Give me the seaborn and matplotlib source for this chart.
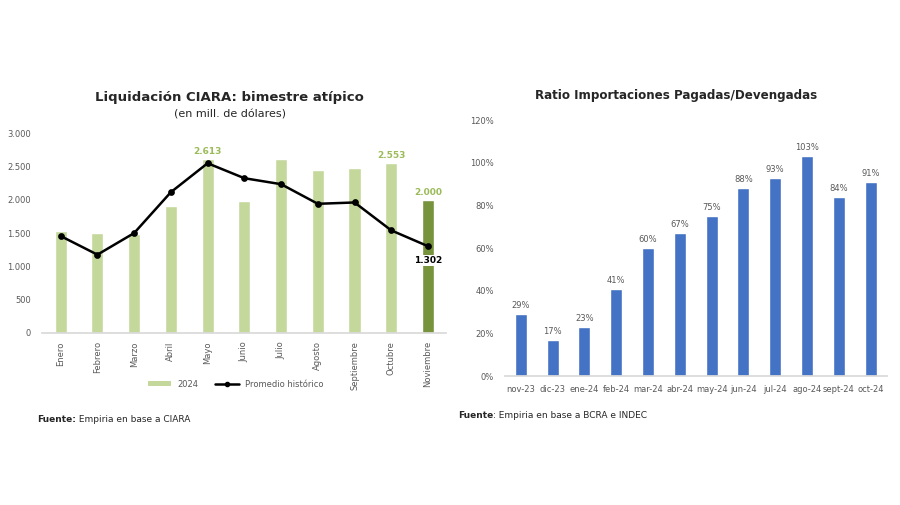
import matplotlib
matplotlib.use("Agg")
import matplotlib.pyplot as plt
import seaborn as sns
from matplotlib.patches import Patch
from matplotlib.lines import Line2D
from matplotlib.ticker import FuncFormatter

# --- datos ---
meses = ["Enero", "Febrero", "Marzo", "Abril", "Mayo", "Junio", "Julio",
         "Agosto", "Septiembre", "Octubre", "Noviembre"]
liq_2024 = [1530, 1500, 1490, 1910, 2613, 1980, 2610, 2450, 2480, 2553, 2000]
promedio = [1455, 1175, 1500, 2115, 2550, 2325, 2235, 1940, 1960, 1540, 1302]

periodos = ["nov-23", "dic-23", "ene-24", "feb-24", "mar-24", "abr-24",
            "may-24", "jun-24", "jul-24", "ago-24", "sept-24", "oct-24"]
ratio = [29, 17, 23, 41, 60, 67, 75, 88, 93, 103, 84, 91]

verde_claro = "#c4d89c"
verde_oscuro = "#77933c"
verde_label = "#9bbb59"
azul = "#4472c4"
gris = "#595959"

sns.set_theme(style="white")
plt.rcParams["font.family"] = ["DejaVu Sans"]

fig = plt.figure(figsize=(9, 5.05), dpi=100)

def miles(v, _):
    return f"{int(v):,}".replace(",", ".")

# --- grafico izquierdo ---
ax1 = fig.add_axes([0.047, 0.341, 0.449, 0.395])
colores = [verde_claro] * (len(meses) - 1) + [verde_oscuro]
sns.barplot(x=meses, y=liq_2024, hue=meses, palette=colores, legend=False,
            width=0.33, ax=ax1, saturation=1)
sns.pointplot(x=meses, y=promedio, color="black", markers="o",
              linewidth=1.8, markersize=3.5, ax=ax1)
ax1.set_ylim(0, 3000)
ax1.set_xlim(-0.5, len(meses) - 0.5)
ax1.set_yticks(range(0, 3001, 500))
ax1.yaxis.set_major_formatter(FuncFormatter(miles))
ax1.tick_params(axis="y", labelsize=6, colors=gris, length=0, pad=8)
ax1.tick_params(axis="x", labelsize=6, colors=gris, length=0, labelrotation=90, pad=6)
for s in ["top", "right", "left"]:
    ax1.spines[s].set_visible(False)
ax1.spines["bottom"].set_color("#d9d9d9")
ax1.set_xlabel("")
ax1.set_ylabel("")

for i in [4, 9, 10]:
    ax1.annotate(miles(liq_2024[i], None), (i, liq_2024[i]), xytext=(0, 2),
                 textcoords="offset points", ha="center", va="bottom",
                 fontsize=6.5, fontweight="bold", color=verde_label)
ax1.annotate(miles(promedio[-1], None), (10, promedio[-1]), xytext=(0, -7),
             textcoords="offset points", ha="center", va="top",
             fontsize=6.5, fontweight="bold", color="black",
             bbox=dict(boxstyle="square,pad=0.1", fc="white", ec="none"))

fig.text(0.255, 0.806, "Liquidación CIARA: bimestre atípico", ha="center",
         va="center", fontsize=9.5, fontweight="bold", color="#262626")
fig.text(0.255, 0.774, "(en mill. de dólares)", ha="center", va="center",
         fontsize=8, color="#262626")

handles = [Patch(facecolor=verde_claro, edgecolor="none", label="2024"),
           Line2D([0], [0], color="black", marker="o", markersize=3,
                  linewidth=1.8, label="Promedio histórico")]
fig.legend(handles=handles, loc="center", bbox_to_anchor=(0.262, 0.239),
           ncol=2, frameon=False, fontsize=6, handlelength=2.8,
           handleheight=0.5, columnspacing=2.0, labelcolor=gris)

# --- grafico derecho ---
ax2 = fig.add_axes([0.561, 0.255, 0.424, 0.507])
sns.barplot(x=periodos, y=ratio, color=azul, width=0.38, ax=ax2, saturation=1)
ax2.set_ylim(0, 120)
ax2.set_xlim(-0.5, len(periodos) - 0.5)
ax2.set_yticks(range(0, 121, 20))
ax2.yaxis.set_major_formatter(FuncFormatter(lambda v, _: f"{int(v)}%"))
ax2.tick_params(axis="y", labelsize=6, colors=gris, length=0, pad=8)
ax2.tick_params(axis="x", labelsize=6, colors=gris, length=0, pad=6)
for s in ["top", "right", "left"]:
    ax2.spines[s].set_visible(False)
ax2.spines["bottom"].set_color("#d9d9d9")
ax2.set_xlabel("")
ax2.set_ylabel("")
for i, v in enumerate(ratio):
    ax2.annotate(f"{v}%", (i, v), xytext=(0, 3), textcoords="offset points",
                 ha="center", va="bottom", fontsize=6, color=gris)

fig.text(0.751, 0.81, "Ratio Importaciones Pagadas/Devengadas", ha="center",
         va="center", fontsize=8.6, fontweight="bold", color="#262626")

# --- fuentes ---
renderer = fig.canvas.get_renderer()

def fuente(x, y, negrita, resto):
    t = fig.text(x, y, negrita, fontsize=6.5, fontweight="bold",
                 color="#262626", va="center")
    bb = t.get_window_extent(renderer)
    fig.text(bb.x1 / fig.bbox.width, y, resto, fontsize=6.5, color="#262626",
             va="center")

fuente(0.041, 0.170, "Fuente:", " Empiria en base a CIARA")
fuente(0.509, 0.178, "Fuente", ": Empiria en base a BCRA e INDEC")

fig.savefig("out.png", dpi=100, facecolor="white")
